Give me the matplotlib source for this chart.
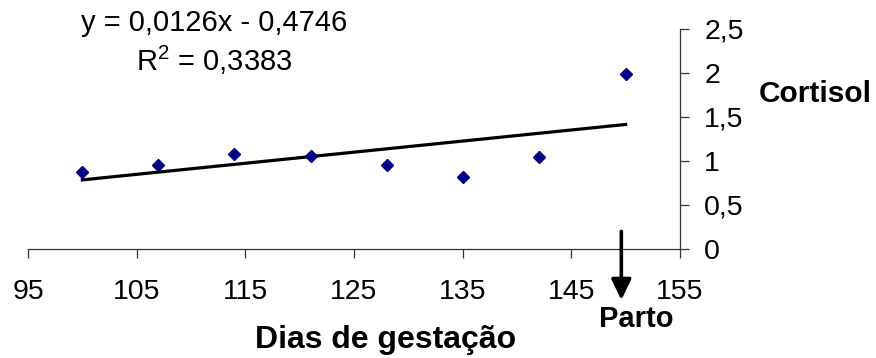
import matplotlib
matplotlib.use("Agg")
import matplotlib.pyplot as plt
import numpy as np

plt.rcParams['font.family'] = ['Liberation Sans', 'DejaVu Sans']
plt.rcParams['mathtext.fontset'] = 'custom'
plt.rcParams['mathtext.rm'] = 'Liberation Sans'
plt.rcParams['mathtext.default'] = 'regular'

# Data
dias = [100, 107, 114, 121, 128, 135, 142, 150]
cortisol = [0.87, 0.95, 1.085, 1.06, 0.95, 0.82, 1.04, 1.985]
slope = 0.0126
intercept = -0.4746
r2 = 0.3383
parto_dia = 149.6
x_ticks = [95, 105, 115, 125, 135, 145, 155]
y_ticks = [0, 0.5, 1, 1.5, 2, 2.5]
y_ticklabels = ['0', '0,5', '1', '1,5', '2', '2,5']

W, H = 876, 358
fig = plt.figure(figsize=(W / 100, H / 100), dpi=100)
ax = fig.add_axes([28 / W, 1 - 249 / H, (680 - 28) / W, (249 - 29) / H])

ax.plot(dias, cortisol, linestyle='none', marker='D', markersize=6.3,
        color='#000080', zorder=3)
xf = np.array([dias[0], dias[-1]])
ax.plot(xf, slope * xf + intercept, color='black', lw=2.3, zorder=2)

ax.set_xlim(95, 155)
ax.set_ylim(0, 2.5)
ax.set_xticks(x_ticks)
ax.set_xticklabels([str(t) for t in x_ticks])
ax.set_yticks(y_ticks)
ax.set_yticklabels(y_ticklabels)

for s in ['top', 'left']:
    ax.spines[s].set_visible(False)
for s in ['right', 'bottom']:
    ax.spines[s].set_color('#333333')
    ax.spines[s].set_linewidth(0.9)
ax.yaxis.tick_right()
ax.tick_params(axis='y', direction='out', length=6.5, width=0.9, color='#333333',
               labelsize=20.5, pad=11)
ax.tick_params(axis='x', direction='out', length=6.5, width=0.9, color='#333333',
               labelsize=20.5, pad=15)
ax.patch.set_alpha(0)

# Arrow for parto
ax.annotate('', xy=(parto_dia, -0.58), xytext=(parto_dia, 0.2),
            arrowprops=dict(arrowstyle='-|>,head_length=1.25,head_width=0.6',
                            color='black', lw=2.6, shrinkA=0, shrinkB=0),
            annotation_clip=False)

fig.text(636 / W, 1 - 319 / H, 'Parto', fontsize=21, fontweight='bold',
         ha='center', va='center')
fig.text(385.5 / W, 1 - 340 / H, 'Dias de gestação', fontsize=23, fontweight='bold',
         ha='center', va='center')
fig.text(759 / W, 1 - 94 / H, 'Cortisol', fontsize=21.5, fontweight='bold',
         ha='left', va='center')

eq = 'y = {:.4f}x - {:.4f}'.format(slope, abs(intercept)).replace('.', ',')
fig.text(214 / W, 1 - 23 / H, eq, fontsize=21, ha='center', va='center')
fig.text(214 / W, 1 - 60 / H, 'R$^2$ = ' + '{:.4f}'.format(r2).replace('.', ','),
         fontsize=21, ha='center', va='center')

fig.savefig('out.png', dpi=100)
